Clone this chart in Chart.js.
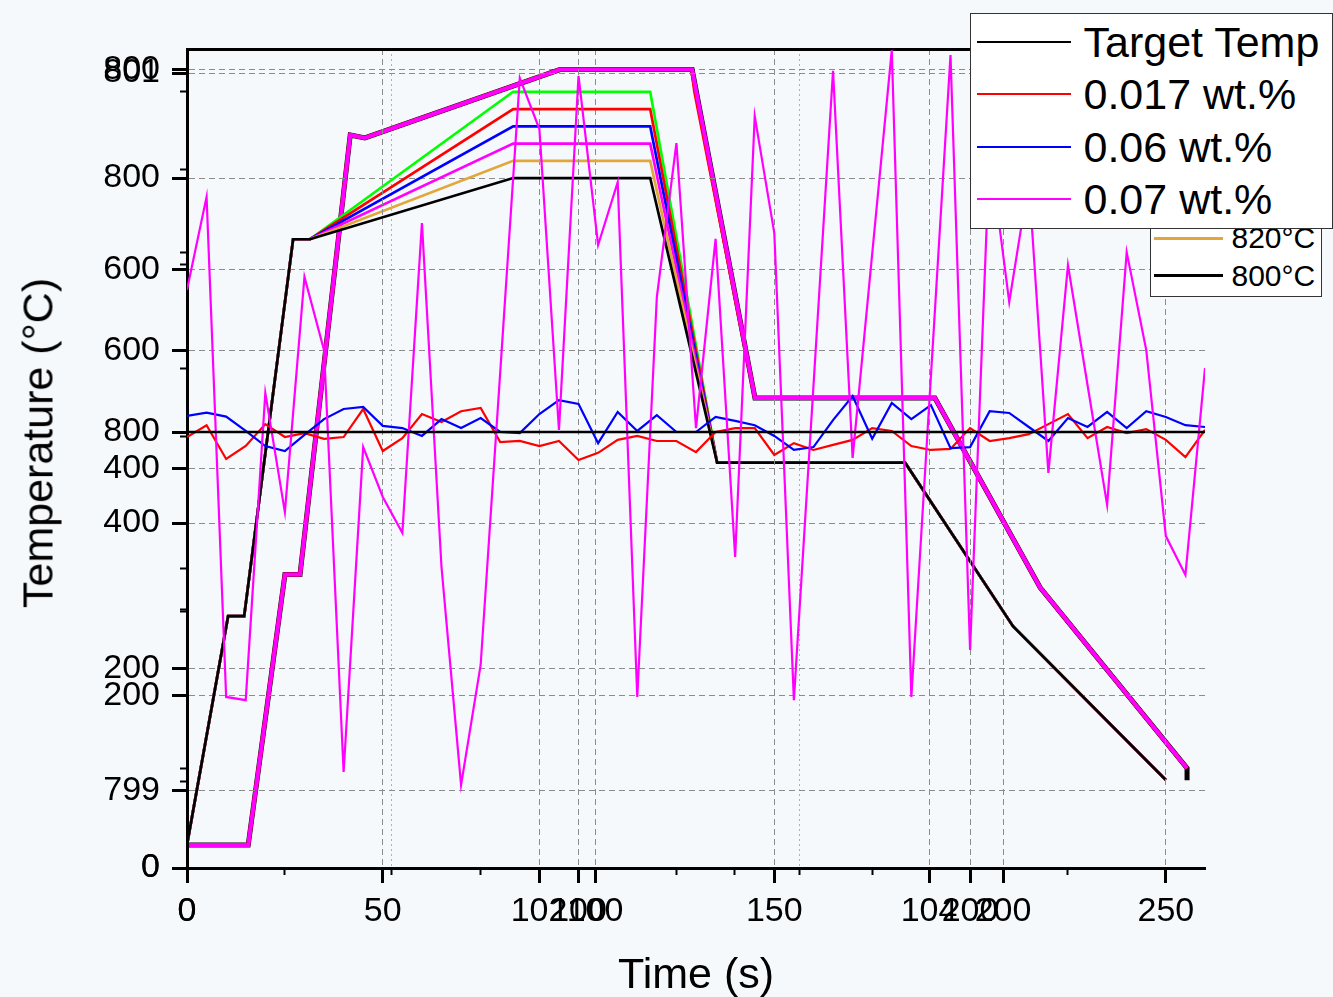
<!DOCTYPE html>
<html>
<head>
<meta charset="utf-8">
<title>Temperature profiles</title>
<script src="https://cdn.jsdelivr.net/npm/chart.js@4.4.1/dist/chart.umd.min.js"></script>
<style>
  html, body { margin: 0; padding: 0; background: #f6f9fc; }
  #wrap { position: relative; width: 1333px; height: 997px; overflow: hidden; font-family: "Liberation Sans", Arial, sans-serif; }
  #wrap canvas { position: absolute; left: 0; top: 0; }
  .title { position: absolute; font-size: 43px; line-height: 43px; color: #000; white-space: nowrap; }
  #ytitle { left: 38px; top: 443px; transform: translate(-50%, -50%) rotate(-90deg); }
  #xtitle { left: 696px; top: 973px; transform: translate(-50%, -50%); }
  .legend { position: absolute; background: #fff; border: 1.5px solid #333; box-sizing: border-box; }
  .legend .swatch { position: absolute; }
  .legend .row { position: absolute; white-space: nowrap; color: #000; }
  #legB { left: 1150px; top: 68px; width: 172px; height: 229px; }
  #legA { left: 970px; top: 13px; width: 363px; height: 216px; }
</style>
</head>
<body>
<div id="wrap">
  <canvas id="chartC" width="1333" height="997"></canvas>
  <canvas id="chartB" width="1333" height="997"></canvas>
  <canvas id="chartA" width="1333" height="997"></canvas>
  <div class="title" id="ytitle">Temperature (°C)</div>
  <div class="title" id="xtitle">Time (s)</div>
  <div class="legend" id="legB"></div>
  <div class="legend" id="legA"></div>
</div>
<script>
// --- hold at 800 °C (legend: Target Temp / wt.%) ---
const holdTime = [0, 5, 10, 15, 20, 25, 30, 35, 40, 45,
  50, 55, 60, 65, 70, 75, 80, 85, 90, 95,
  100, 105, 110, 115, 120, 125, 130, 135, 140, 145,
  150, 155, 160, 165, 170, 175, 180, 185, 190, 195,
  200, 205, 210, 215, 220, 225, 230, 235, 240, 245,
  250, 255, 260];
const targetTime = [0, 260];
const targetTemp = [800, 800];
const temp017 = [799.986, 800.019, 799.925, 799.961, 800.022, 799.986, 799.997, 799.981, 799.986, 800.064,
  799.947, 799.983, 800.050, 800.028, 800.058, 800.067, 799.972, 799.975, 799.961, 799.975,
  799.922, 799.942, 799.978, 799.989, 799.975, 799.975, 799.944, 800.000, 800.011, 800.011,
  799.936, 799.969, 799.950, 799.964, 799.978, 800.011, 800.003, 799.961, 799.950, 799.953,
  800.011, 799.975, 799.983, 799.994, 800.022, 800.050, 799.983, 800.014, 799.997, 800.008,
  799.978, 799.930, 800.006];
const temp006 = [800.045, 800.054, 800.043, 800.003, 799.961, 799.947, 799.992, 800.036, 800.064, 800.070,
  800.017, 800.011, 799.989, 800.036, 800.011, 800.039, 800.000, 799.997, 800.050, 800.089,
  800.078, 799.969, 800.056, 800.003, 800.047, 800.000, 800.000, 800.042, 800.031, 800.019,
  799.989, 799.950, 799.958, 800.033, 800.100, 799.981, 800.081, 800.036, 800.075, 799.955,
  799.958, 800.058, 800.053, 800.014, 799.975, 800.039, 800.014, 800.056, 800.011, 800.058,
  800.042, 800.019, 800.014];
const temp007 = [800.396, 800.655, 799.262, 799.253, 800.109, 799.777, 800.432, 800.228, 799.053, 799.958,
  799.819, 799.719, 800.582, 799.624, 799.017, 799.351, 800.167, 800.986, 800.844, 800.006,
  800.992, 800.521, 800.696, 799.262, 800.376, 800.805, 800.011, 800.538, 799.652, 800.880,
  800.554, 799.253, 800.128, 801.006, 799.928, 800.496, 801.064, 799.262, 800.156, 801.050,
  799.393, 800.786, 800.362, 800.702, 799.886, 800.465, 800.131, 799.797, 800.501, 800.228,
  799.710, 799.602, 800.178];
const legendANames = ['Target Temp', '0.017 wt.%', '0.06 wt.%', '0.07 wt.%'];
const legendAColors = ['#000000', '#ff0000', '#0000ff', '#ff00ff'];

// --- austenitising profiles (legend: 900 ... 800 °C) ---
const profileTime = [0, 10.5, 14.6, 27.1, 31.4, 83.3, 118.3, 135.4, 183.4, 211, 250];
const profile900 = [27, 292, 292, 729, 729, 900, 900, 470, 470, 280, 102];
const profile880 = [27, 292, 292, 729, 729, 880, 880, 470, 470, 280, 102];
const profile860 = [27, 292, 292, 729, 729, 860, 860, 470, 470, 280, 102];
const profile840 = [27, 292, 292, 729, 729, 840, 840, 470, 470, 280, 102];
const profile820 = [27, 292, 292, 729, 729, 820, 820, 470, 470, 280, 102];
const profile800 = [27, 292, 292, 729, 729, 800, 800, 470, 470, 280, 102];
const legendBNames = ['900°C', '880°C', '860°C', '840°C', '820°C', '800°C'];
const legendBColors = ['#00ff00', '#ff0000', '#0000ff', '#ff00ff', '#e3a63b', '#000000'];

// --- measured cycle drawn on its own axes ---
const cycleTime = [0, 15, 24, 27.7, 40, 43.6, 91.4, 123.8, 139.2, 183.3, 209.1, 245.1];
const cycleMeasured = [23, 23, 294, 294, 734.5, 731.5, 800, 800, 471, 471, 281, 100];
const cycleTargetTime = [0, 15, 24, 27.7, 40, 43.6, 91.4, 123.8, 139.2, 183.3, 209.1, 245.1, 245.1];
const cycleTarget = [23, 23, 294, 294, 734.5, 731.5, 800, 800, 471, 471, 281, 100, 88];
const cycleRedTime = [0, 15, 24, 27.7, 40, 43.6, 91.4, 123.8, 124.5, 139.2, 183.3, 209.1, 245.1];
const cycleRed = [23, 23, 294, 294, 734.5, 731.5, 800, 800, 778, 471, 471, 281, 100];

// tick values and labels of the overlapping axes
const xMainTicks = [0, 50, 100, 150, 200, 250];
const xMainLabels = ['0', '50', '100', '150', '200', '250'];
const xMainMinor = [25, 75, 125, 175, 225];
const xCycleTicks = [0, 100, 200];
const xCycleLabels = ['0', '100', '200'];
const xCycleMinor = [50, 150];
const xLogTicks = [100, 10000];
const xLogLabels = ['102', '104'];
const xLogMinor = [1000];
const yHoldTicks = [799, 800, 801];
const yHoldLabels = ['799', '800', '801'];
const yHoldMinor = [799.5, 800.5];
const yProfileTicks = [0, 200, 400, 600, 800];
const yProfileLabels = ['0', '200', '400', '600', '800'];
const yProfileMinor = [100, 300, 500, 700, 900];
const yCycleTicks = [0, 200, 400, 600, 800];
const yCycleLabels = ['0', '200', '400', '600', '800'];
const yCycleMinor = [100, 300, 500, 700];

const W = 1333, H = 997;
const PLOT = { left: 187, right: 1205, top: 49, bottom: 868 };
const tickFont = { family: "'Liberation Sans', Arial, sans-serif", size: 34 };
const gridGray = '#8c8c8c';

function setTicks(values) {
  return (scale) => { scale.ticks = values.map((v) => ({ value: v })); };
}

function mainAxis(o) {
  const horizontal = o.position === 'bottom';
  return {
    type: o.type || 'linear',
    position: o.position,
    weight: 1,
    min: o.min,
    max: o.max,
    afterBuildTicks: setTicks(o.values),
    afterFit: (scale) => {
      if (horizontal) scale.height = H - PLOT.bottom;
      else scale.width = PLOT.left;
    },
    ticks: {
      autoSkip: false, maxRotation: 0, minRotation: 0, color: '#000', font: tickFont,
      padding: horizontal ? 8 : 12,
      callback: (v, i) => o.labels[i],
    },
    grid: { color: gridGray, lineWidth: 1, drawOnChartArea: true, tickLength: 15, tickWidth: 3, tickColor: '#000', tickBorderDash: [] },
    border: { display: true, color: '#000', width: 3, dash: [6, 4] },
  };
}

function minorAxis(o) {
  const horizontal = o.position === 'bottom';
  return {
    type: o.type || 'linear',
    position: o.position,
    weight: 0,
    min: o.min,
    max: o.max,
    afterBuildTicks: setTicks(o.values),
    afterFit: (scale) => {
      if (horizontal) scale.height = 0;
      else scale.width = 0;
    },
    ticks: { display: false },
    grid: {
      drawOnChartArea: !!o.gridColor, color: o.gridColor || 'rgba(0,0,0,0)', lineWidth: 1,
      tickLength: 7, tickWidth: 2, tickColor: '#000', tickBorderDash: [],
    },
    border: { display: false, dash: o.dash || [] },
  };
}

function series(xs, ys, color, width, xAxisID, yAxisID) {
  return {
    data: xs.map((x, i) => ({ x: x, y: ys[i] })),
    borderColor: color,
    borderWidth: width,
    pointRadius: 0,
    tension: 0,
    fill: false,
    xAxisID: xAxisID,
    yAxisID: yAxisID,
  };
}

function baseOptions(scales) {
  return {
    responsive: false,
    animation: false,
    events: [],
    layout: { padding: { left: 0, right: W - PLOT.right, top: PLOT.top, bottom: 0 } },
    plugins: { legend: { display: false }, tooltip: { enabled: false } },
    scales: scales,
  };
}

// bottom layer: cycle on its own time/temperature axes
new Chart(document.getElementById('chartC'), {
  type: 'line',
  data: {
    datasets: [
      series(cycleTime, cycleMeasured, '#ff00ff', 4, 'xc', 'yc'),
      series(cycleRedTime, cycleRed, '#ff0000', 4, 'xc', 'yc'),
      series(cycleTargetTime, cycleTarget, '#000000', 5, 'xc', 'yc'),
    ],
  },
  options: baseOptions({
    xc: mainAxis({ position: 'bottom', min: 0, max: 249.5, values: xCycleTicks, labels: xCycleLabels }),
    xcMinor: minorAxis({ position: 'bottom', min: 0, max: 249.5, values: xCycleMinor, gridColor: '#b0b0b0', dash: [2, 3] }),
    yc: mainAxis({ position: 'left', min: 0, max: 820.6, values: yCycleTicks, labels: yCycleLabels }),
    ycMinor: minorAxis({ position: 'left', min: 0, max: 820.6, values: yCycleMinor }),
  }),
});

// middle layer: the six austenitising profiles, plus the log time axis
const profiles = [profile800, profile820, profile840, profile860, profile880, profile900];
const profileColors = legendBColors.slice().reverse();
new Chart(document.getElementById('chartB'), {
  type: 'line',
  data: {
    datasets: profiles.map((p, i) => series(profileTime, p, profileColors[i], 2.7, 'xb', 'yb')),
  },
  options: baseOptions({
    xb: { type: 'linear', position: 'bottom', display: false, min: 0, max: 260 },
    xlog: mainAxis({ type: 'logarithmic', position: 'bottom', min: 1.567, max: 260000, values: xLogTicks, labels: xLogLabels }),
    xlogMinor: minorAxis({ type: 'logarithmic', position: 'bottom', min: 1.567, max: 260000, values: xLogMinor }),
    yb: mainAxis({ position: 'left', min: 0, max: 949.6, values: yProfileTicks, labels: yProfileLabels }),
    ybMinor: minorAxis({ position: 'left', min: 0, max: 949.6, values: yProfileMinor }),
  }),
});

// top layer: isothermal hold at 800 °C
new Chart(document.getElementById('chartA'), {
  type: 'line',
  data: {
    datasets: [
      series(targetTime, targetTemp, legendAColors[0], 2.5, 'xa', 'ya'),
      series(holdTime, temp007, legendAColors[3], 2.2, 'xa', 'ya'),
      series(holdTime, temp006, legendAColors[2], 2.2, 'xa', 'ya'),
      series(holdTime, temp017, legendAColors[1], 2.2, 'xa', 'ya'),
    ],
  },
  options: baseOptions({
    xa: mainAxis({ position: 'bottom', min: 0, max: 260, values: xMainTicks, labels: xMainLabels }),
    xaMinor: minorAxis({ position: 'bottom', min: 0, max: 260, values: xMainMinor }),
    xaTop: {
      type: 'linear', position: 'top', min: 0, max: 260,
      afterFit: (scale) => { scale.height = 0; },
      ticks: { display: false },
      grid: { display: false },
      border: { display: true, color: '#000', width: 3 },
    },
    ya: mainAxis({ position: 'left', min: 798.7855, max: 801.0669, values: yHoldTicks, labels: yHoldLabels }),
    yaMinor: minorAxis({ position: 'left', min: 798.7855, max: 801.0669, values: yHoldMinor }),
  }),
});

function buildLegend(el, names, colors, o) {
  names.forEach((name, i) => {
    const cy = o.firstRow + i * o.rowStep;
    const line = document.createElement('div');
    line.className = 'swatch';
    line.style.left = o.lineLeft + 'px';
    line.style.width = o.lineWidth + 'px';
    line.style.top = (cy - o.lineThick / 2) + 'px';
    line.style.height = o.lineThick + 'px';
    line.style.background = colors[i];
    const txt = document.createElement('div');
    txt.className = 'row';
    txt.textContent = name;
    txt.style.left = o.textLeft + 'px';
    txt.style.top = (cy - o.rowStep / 2) + 'px';
    txt.style.height = o.rowStep + 'px';
    txt.style.lineHeight = o.rowStep + 'px';
    txt.style.fontSize = o.fontSize + 'px';
    el.append(line, txt);
  });
}

buildLegend(document.getElementById('legB'), legendBNames, legendBColors,
  { firstRow: 19, rowStep: 37.5, lineLeft: 2.5, lineWidth: 69, lineThick: 3, textLeft: 80.5, fontSize: 30 });
buildLegend(document.getElementById('legA'), legendANames, legendAColors,
  { firstRow: 28, rowStep: 52.4, lineLeft: 5.5, lineWidth: 94, lineThick: 2, textLeft: 112.5, fontSize: 43 });
</script>
</body>
</html>
